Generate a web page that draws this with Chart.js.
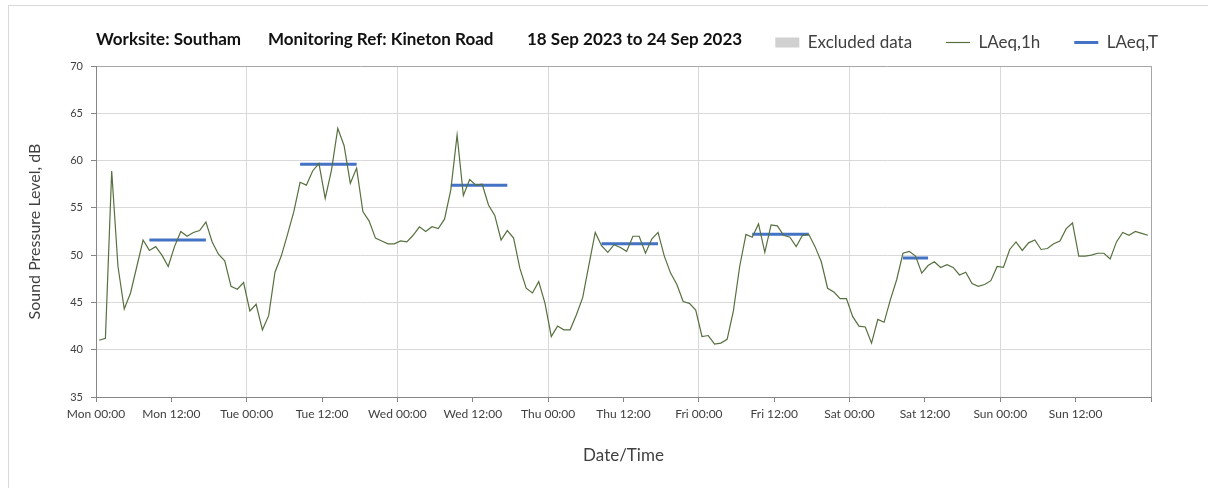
<!DOCTYPE html>
<html>
<head>
<meta charset="utf-8">
<script src="https://cdn.jsdelivr.net/npm/chart.js@4.4.0/dist/chart.umd.min.js"></script>
<style>
  body { margin: 0; background: #fff; }
  #frame { position: absolute; left: 8px; top: 5px; width: 1200px; height: 483px; border-left: 1px solid #d9d9d9; border-top: 1px solid #d9d9d9; }
  #wrap { position: absolute; left: 0; top: 0; width: 1208px; height: 488px; }
</style>
</head>
<body>
<div id="frame"></div>
<div id="wrap"><canvas id="chart_noise" width="1208" height="488"></canvas></div>
<script>
// hourly LAeq,1h values, one array per day (00:00 .. 23:00)
const mon = [41.0, 41.2, 58.9, 48.8, 44.3, 46.0, 48.8, 51.6, 50.5, 50.9, 50.0, 48.8,
             50.9, 52.5, 52.0, 52.4, 52.6, 53.5, 51.4, 50.1, 49.4, 46.7, 46.4, 47.1];
const tue = [44.1, 44.8, 42.1, 43.6, 48.2, 49.9, 52.2, 54.6, 57.7, 57.4, 58.9, 59.7,
             56.0, 59.0, 63.4, 61.6, 57.6, 59.2, 54.6, 53.6, 51.8, 51.5, 51.2, 51.2];
const wed = [51.5, 51.4, 52.1, 53.0, 52.5, 53.0, 52.8, 53.8, 56.9, 62.7, 56.3, 58.0,
             57.4, 57.5, 55.3, 54.2, 51.6, 52.6, 51.8, 48.6, 46.5, 46.0, 47.2, 44.9];
const thu = [41.4, 42.5, 42.1, 42.1, 43.7, 45.5, 49.0, 52.4, 51.0, 50.3, 51.1, 50.8,
             50.4, 52.0, 52.0, 50.2, 51.7, 52.4, 49.9, 48.1, 46.9, 45.1, 44.9, 44.2];
const fri = [41.4, 41.5, 40.6, 40.7, 41.1, 44.1, 48.8, 52.2, 51.9, 53.3, 50.3, 53.2,
             53.1, 52.1, 51.9, 50.9, 52.1, 52.2, 50.9, 49.3, 46.5, 46.1, 45.4, 45.4];
const sat = [43.5, 42.5, 42.4, 40.7, 43.2, 42.9, 45.3, 47.4, 50.2, 50.4, 49.9, 48.1,
             48.9, 49.3, 48.7, 49.0, 48.7, 47.9, 48.2, 47.0, 46.7, 46.9, 47.3, 48.8];
const sun = [48.7, 50.6, 51.4, 50.5, 51.3, 51.6, 50.6, 50.7, 51.2, 51.5, 52.8, 53.4,
             49.9, 49.9, 50.0, 50.2, 50.2, 49.6, 51.4, 52.4, 52.1, 52.5, 52.3, 52.1];

// LAeq,T assessment periods (day index, first hour, last hour, level)
const periodDay = [0, 1, 2, 3, 4, 5];
const periodStart = [8, 8, 8, 8, 8, 8];
const periodEnd = [17, 17, 17, 17, 17, 12];
const periodLevel = [51.6, 59.6, 57.4, 51.2, 52.2, 49.7];

const dayNames = ["Mon", "Tue", "Wed", "Thu", "Fri", "Sat", "Sun"];
const yTicks = [35, 40, 45, 50, 55, 60, 65, 70];

const FONT = "Lato";
const TEXT = "#404040";

const hourly = [mon, tue, wed, thu, fri, sat, sun].flat();
// each hourly value sits in the middle of its hour
const hourlyPoints = hourly.map((v, i) => ({ x: i + 0.5, y: v }));

const periodPoints = [];
periodDay.forEach((d, i) => {
    periodPoints.push({ x: d * 24 + periodStart[i] + 0.5, y: periodLevel[i] });
    periodPoints.push({ x: d * 24 + periodEnd[i] + 0.5, y: periodLevel[i] });
    periodPoints.push({ x: d * 24 + periodEnd[i] + 1, y: null });
});

const titlePlugin = {
    id: "headline",
    afterDraw(chart) {
        const ctx = chart.ctx;
        ctx.save();
        ctx.font = "bold 17px " + FONT;
        ctx.fillStyle = "#111";
        ctx.textBaseline = "middle";
        ctx.fillText("Worksite: Southam", 96, 40);
        ctx.fillText("Monitoring Ref: Kineton Road", 268, 40);
        ctx.fillText("18 Sep 2023 to 24 Sep 2023", 527, 40);
        ctx.restore();
    },
};

new Chart(document.getElementById("chart_noise"), {
    type: "line",
    data: {
        datasets: [
            {
                label: "Excluded data",
                data: [],
                backgroundColor: "#d0d0d0",
                borderColor: "#d0d0d0",
                legendStyle: "rect",
                legendLine: 0,
            },
            {
                label: "LAeq,1h",
                data: hourlyPoints,
                borderColor: "#56703f",
                borderWidth: 1.2,
                pointRadius: 0,
                tension: 0,
                legendStyle: "line",
                legendLine: 1.2,
            },
            {
                label: "LAeq,T",
                data: periodPoints,
                borderColor: "#4472c4",
                borderWidth: 3,
                borderCapStyle: "butt",
                pointRadius: 0,
                spanGaps: false,
                legendStyle: "line",
                legendLine: 3,
            },
        ],
    },
    options: {
        responsive: false,
        animation: false,
        devicePixelRatio: 1,
        layout: { padding: { left: 9, right: 16, top: 0, bottom: 20 } },
        plugins: {
            tooltip: { enabled: false },
            title: { display: false },
            legend: {
                position: "top",
                align: "end",
                labels: {
                    usePointStyle: true,
                    pointStyleWidth: 24,
                    boxHeight: 10,
                    padding: 34,
                    color: TEXT,
                    font: { family: FONT, size: 17 },
                    generateLabels: (chart) =>
                        chart.data.datasets.map((ds, i) => ({
                            text: ds.label,
                            fillStyle: ds.backgroundColor || ds.borderColor,
                            strokeStyle: ds.borderColor,
                            lineWidth: ds.legendLine,
                            pointStyle: ds.legendStyle,
                            fontColor: TEXT,
                            hidden: false,
                            datasetIndex: i,
                        })),
                },
            },
        },
        scales: {
            x: {
                type: "linear",
                min: 0,
                max: 168,
                afterFit: (s) => { s.height = 71; },
                afterBuildTicks: (s) => {
                    s.ticks = [];
                    for (let h = 0; h <= 168; h += 12) s.ticks.push({ value: h });
                },
                ticks: {
                    autoSkip: false,
                    maxRotation: 0,
                    padding: 5,
                    color: TEXT,
                    font: { family: FONT, size: 12 },
                    callback: (v) => {
                        if (v >= 168) return "";
                        return dayNames[Math.floor(v / 24)] + (v % 24 === 0 ? " 00:00" : " 12:00");
                    },
                },
                grid: {
                    color: (c) => {
                        if (!c.tick) return "transparent";
                        if (c.tick.value === 168) return "#a6a6a6";
                        return c.tick.value % 24 === 0 ? "#d9d9d9" : "transparent";
                    },
                    tickColor: "#868686",
                    tickLength: 5,
                    lineWidth: 1,
                },
                border: { color: "#868686", width: 1 },
                title: {
                    display: true,
                    text: "Date/Time",
                    color: TEXT,
                    font: { family: FONT, size: 17 },
                    padding: { top: 4, bottom: 2 },
                },
            },
            xTop: {
                type: "linear",
                position: "top",
                grid: { display: false },
                ticks: { display: false },
                border: { display: false },
                afterFit: (s) => { s.height = 5; },
            },
            y: {
                min: 35,
                max: 70,
                afterFit: (s) => { s.width = 87; },
                afterBuildTicks: (s) => { s.ticks = yTicks.map((v) => ({ value: v })); },
                ticks: {
                    padding: 8,
                    color: TEXT,
                    font: { family: FONT, size: 11 },
                },
                grid: {
                    color: (c) => (c.tick && c.tick.value === 70 ? "#a6a6a6" : "#d9d9d9"),
                    tickColor: "#868686",
                    tickLength: 5,
                    lineWidth: 1,
                },
                border: { color: "#868686", width: 1 },
                title: {
                    display: true,
                    text: "Sound Pressure Level, dB",
                    color: TEXT,
                    font: { family: FONT, size: 16 },
                    padding: { top: 16, bottom: 0 },
                },
            },
            yRight: {
                type: "linear",
                position: "right",
                grid: { display: false },
                ticks: { display: false },
                border: { display: false },
                afterFit: (s) => { s.width = 41; },
            },
        },
    },
    plugins: [titlePlugin],
});
</script>
</body>
</html>
